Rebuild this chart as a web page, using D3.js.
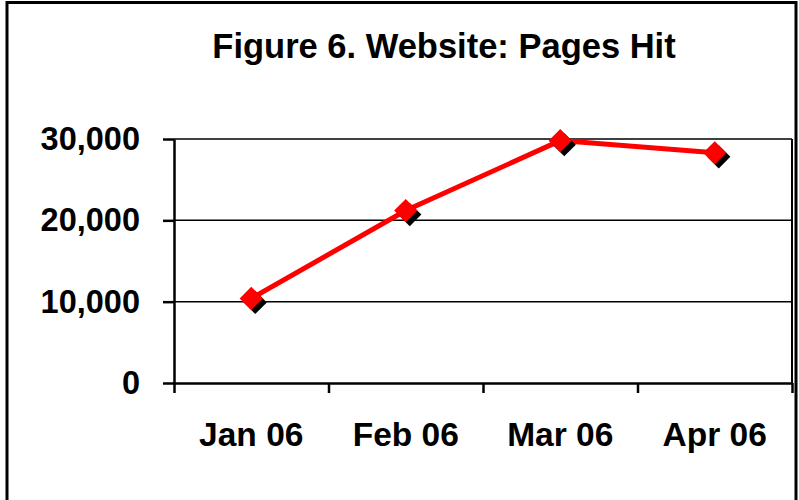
<!DOCTYPE html>
<html>
<head>
<meta charset="utf-8">
<script src="https://cdn.jsdelivr.net/npm/d3@7"></script>
<style>
  body { margin: 0; background: #fff; }
  text { font-family: "Liberation Sans", Arial, sans-serif; font-weight: bold; fill: #000; }
</style>
</head>
<body>
<div id="chart"></div>
<script>
const months = ["Jan 06", "Feb 06", "Mar 06", "Apr 06"];
const pagesHit = [10400, 21200, 29800, 28300];
const yTicks = [0, 10000, 20000, 30000];
const title = "Figure 6. Website: Pages Hit";

var W = 799, H = 500;
var plot = {left: 174, right: 792, top: 139, bottom: 383};

var svg = d3.select("#chart").append("svg").attr("width", W).attr("height", H);

// outer frame (bottom edge runs off the picture)
svg.append("path").attr("d", `M7,${H + 5} V2.5 H796 V${H + 5}`).attr("fill", "none").attr("stroke", "#000").attr("stroke-width", 3);

svg.append("text").attr("x", 444).attr("y", 58).attr("text-anchor", "middle").style("font-size", "34.5px").text(title);

var x = d3.scaleBand().domain(months).range([plot.left, plot.right]);
var y = d3.scaleLinear().domain([0, 30000]).range([plot.bottom, plot.top]);

// gridlines
svg.append("g").selectAll("line").data(yTicks.slice(1)).join("line")
  .attr("x1", plot.left).attr("x2", plot.right).attr("y1", d => y(d)).attr("y2", d => y(d))
  .attr("stroke", "#000").attr("stroke-width", 1.5);

// right border of plot
svg.append("line").attr("x1", plot.right).attr("x2", plot.right).attr("y1", plot.top).attr("y2", plot.bottom).attr("stroke", "#000").attr("stroke-width", 2);

// y axis
var yAxis = svg.append("g").attr("transform", `translate(${plot.left},0)`)
  .call(d3.axisLeft(y).tickValues(yTicks).tickFormat(d3.format(",")).tickSize(11).tickSizeOuter(0).tickPadding(23));
yAxis.select(".domain").attr("stroke-width", 2.5);
yAxis.selectAll(".tick line").attr("stroke-width", 2.5);
yAxis.selectAll("text").style("font-size", "32.5px").attr("font-family", null);

// x axis: ticks at category boundaries, labels at centres
var xb = d3.scaleLinear().domain([0, months.length]).range([plot.left, plot.right]);
var xAxis = svg.append("g").attr("transform", `translate(0,${plot.bottom})`)
  .call(d3.axisBottom(xb).ticks(months.length).tickFormat("").tickSize(10).tickSizeOuter(0));
xAxis.select(".domain").attr("stroke-width", 2.5);
xAxis.selectAll(".tick line").attr("stroke-width", 2.5);

svg.append("g").selectAll("text").data(months).join("text")
  .attr("x", d => x(d) + x.bandwidth() / 2).attr("y", 446).attr("text-anchor", "middle")
  .style("font-size", "33.5px").text(d => d);

// series
var pts = months.map((m, i) => [x(m) + x.bandwidth() / 2, y(pagesHit[i])]);

svg.append("path").datum(pts).attr("d", d3.line()).attr("fill", "none").attr("stroke", "#ff0000").attr("stroke-width", 5);

var diamond = d3.symbol().type(d3.symbolSquare).size(270);
svg.append("g").selectAll("path").data(pts).join("path")
  .attr("d", diamond).attr("fill", "#000")
  .attr("transform", d => `translate(${d[0] + 4},${d[1] + 4}) rotate(45)`);
svg.append("g").selectAll("path").data(pts).join("path")
  .attr("d", diamond).attr("fill", "#ff0000")
  .attr("transform", d => `translate(${d[0]},${d[1]}) rotate(45)`);
</script>
</body>
</html>
